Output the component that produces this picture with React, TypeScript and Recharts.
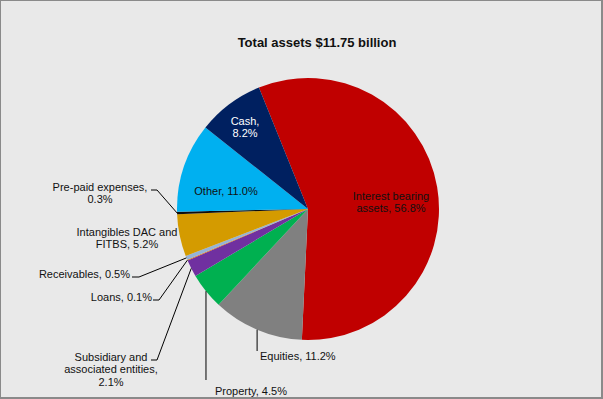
import React from "react";
import { PieChart, Pie, Cell } from "recharts";

const categories = [
  "Interest bearing assets",
  "Equities",
  "Property",
  "Subsidiary and associated entities",
  "Loans",
  "Receivables",
  "Intangibles DAC and FITBS",
  "Pre-paid expenses",
  "Other",
  "Cash",
];
const shares = [56.8, 11.2, 4.5, 2.1, 0.1, 0.5, 5.2, 0.3, 11.0, 8.2];
const colors = [
  "#C00000",
  "#808080",
  "#00B050",
  "#7030A0",
  "#E46C0A",
  "#95B3D7",
  "#D49B00",
  "#0D0D0D",
  "#00B0F0",
  "#002060",
];
const title = "Total assets $11.75 billion";

const data = categories.map((name, i) => ({ name, value: shares[i] }));

const W = 603;
const H = 399;
const CX = 308;
const CY = 209;
const R = 131;
const START = 112;
const FONT = "'Liberation Sans', Arial, sans-serif";
const LH = 12.3;

// label layout: word breaks, anchor, offsets from centre, optional leader elbow/end offsets
type Layout = {
  breaks: number[];
  anchor: "start" | "middle" | "end";
  dx: number;
  dy: number;
  color?: string;
  line?: { elbow?: [number, number]; end?: [number, number]; vertical?: number };
};
const layout: Layout[] = [
  { breaks: [2], anchor: "middle", dx: 83, dy: -13 },
  { breaks: [], anchor: "start", dx: -48, dy: 147, line: { vertical: 142 } },
  { breaks: [], anchor: "start", dx: -93, dy: 182, line: { vertical: 171 } },
  { breaks: [2, 4], anchor: "middle", dx: -197, dy: 148, line: { elbow: [-151, 151], end: [-157, 151] } },
  { breaks: [], anchor: "end", dx: -156, dy: 88, line: { elbow: [-149, 91], end: [-155, 91] } },
  { breaks: [], anchor: "end", dx: -178, dy: 65, line: { elbow: [-169, 68], end: [-176, 68] } },
  { breaks: [3], anchor: "middle", dx: -181, dy: 22.5 },
  { breaks: [2], anchor: "middle", dx: -208, dy: -22, line: { elbow: [-151, -19], end: [-157, -19] } },
  { breaks: [], anchor: "middle", dx: -82, dy: -18 },
  { breaks: [1], anchor: "middle", dx: -63, dy: -88, color: "#FFFFFF" },
];

const RAD = Math.PI / 180;

function splitLines(text: string, breaks: number[]): string[] {
  const words = text.split(" ");
  const out: string[] = [];
  let prev = 0;
  for (const b of breaks) {
    out.push(words.slice(prev, b).join(" "));
    prev = b;
  }
  out.push(words.slice(prev).join(" "));
  return out;
}

const renderLabel = (props: any) => {
  const { index, midAngle } = props;
  const L = layout[index];
  const text = `${categories[index]}, ${shares[index].toFixed(1)}%`;
  const lines = splitLines(text, L.breaks);
  const mx = CX + R * Math.cos(-midAngle * RAD);
  const my = CY + R * Math.sin(-midAngle * RAD);
  let path: string | null = null;
  if (L.line) {
    if (L.line.vertical !== undefined) {
      path = `M${mx},${my}L${mx},${CY + L.line.vertical}`;
    } else if (L.line.elbow && L.line.end) {
      path = `M${mx},${my}L${CX + L.line.elbow[0]},${CY + L.line.elbow[1]}L${CX + L.line.end[0]},${CY + L.line.end[1]}`;
    }
  }
  return (
    <g key={`lab-${index}`}>
      {path && <path d={path} stroke="#000" strokeWidth={1} fill="none" />}
      {lines.map((ln, k) => (
        <text
          key={k}
          x={CX + L.dx}
          y={CY + L.dy + k * LH}
          textAnchor={L.anchor}
          dominantBaseline="central"
          fontFamily={FONT}
          fontSize={11}
          fill={L.color || "#111"}
        >
          {ln}
        </text>
      ))}
    </g>
  );
};

export default function App() {
  return (
    <div
      style={{
        position: "absolute",
        left: 0,
        top: 0,
        width: W,
        height: H,
        background: "#E9E9E9",
        overflow: "hidden",
      }}
    >
      <div
        style={{
          position: "absolute",
          left: 0,
          top: 34,
          width: 634,
          textAlign: "center",
          fontFamily: FONT,
          fontWeight: "bold",
          fontSize: 13,
          lineHeight: "18px",
          color: "#111",
        }}
      >
        {title}
      </div>
      <div style={{ position: "absolute", left: 0, top: 0 }}>
        <PieChart width={W} height={H} margin={{ top: 0, right: 0, bottom: 0, left: 0 }}>
          <Pie
            data={data}
            dataKey="value"
            nameKey="name"
            cx={CX}
            cy={CY}
            outerRadius={R}
            innerRadius={0}
            startAngle={START}
            endAngle={START - 360}
            stroke="none"
            labelLine={false}
            label={renderLabel}
            isAnimationActive={false}
          >
            {data.map((d, i) => (
              <Cell key={d.name} fill={colors[i]} />
            ))}
          </Pie>
        </PieChart>
      </div>
      <div
        style={{
          position: "absolute",
          left: 0,
          top: 0,
          width: W,
          height: H,
          boxSizing: "border-box",
          borderStyle: "solid",
          borderColor: "#8A8A8A",
          borderWidth: "1px 2px 2px 1px",
          pointerEvents: "none",
        }}
      />
    </div>
  );
}
